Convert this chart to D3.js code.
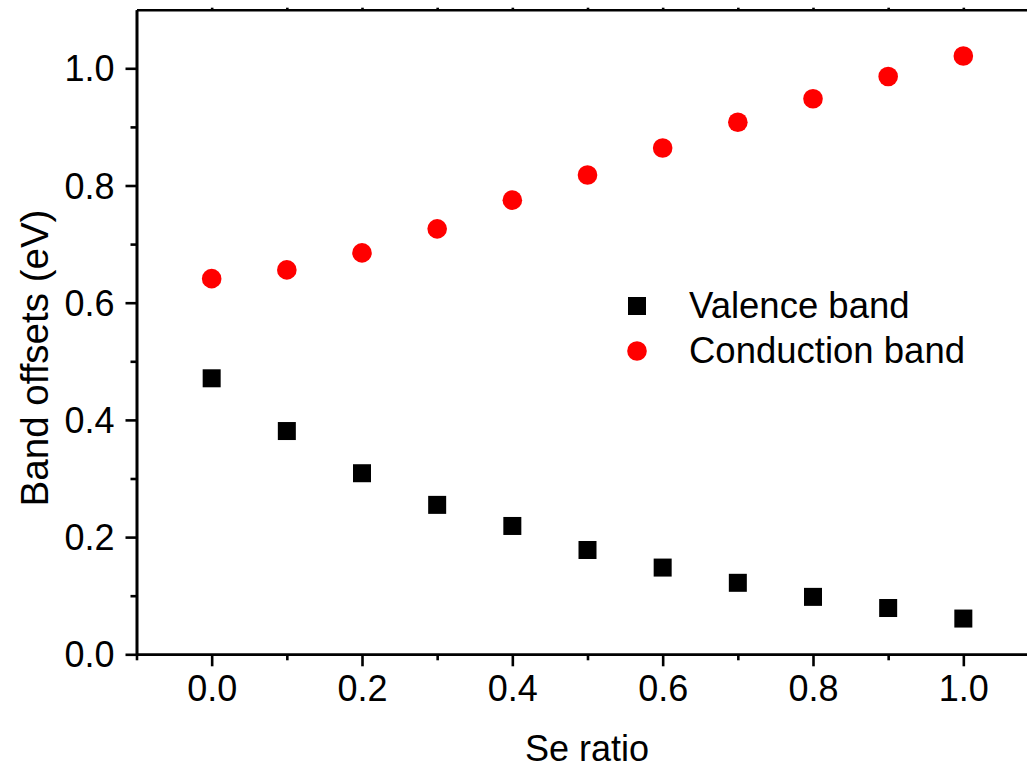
<!DOCTYPE html>
<html>
<head>
<meta charset="utf-8">
<script src="https://cdn.jsdelivr.net/npm/d3@7"></script>
<style>
  body { margin: 0; background: #fff; }
  svg { display: block; }
  text { font-family: Arial, "Liberation Sans", sans-serif; fill: #000; }
</style>
</head>
<body>
<div id="chart"></div>
<script>
// Data
const seRatio = [0.0, 0.1, 0.2, 0.3, 0.4, 0.5, 0.6, 0.7, 0.8, 0.9, 1.0];
const valenceBand = [0.471, 0.381, 0.309, 0.255, 0.219, 0.178, 0.148, 0.122, 0.098, 0.079, 0.061];
const conductionBand = [0.641, 0.656, 0.685, 0.726, 0.775, 0.818, 0.864, 0.908, 0.948, 0.986, 1.021];
const xMajorTicks = [0.0, 0.2, 0.4, 0.6, 0.8, 1.0];
const xMinorTicks = [-0.1, 0.1, 0.3, 0.5, 0.7, 0.9];
const yMajorTicks = [0.0, 0.2, 0.4, 0.6, 0.8, 1.0];
const yMinorTicks = [0.1, 0.3, 0.5, 0.7, 0.9];
const seriesNames = ['Valence band', 'Conduction band'];

const W = 1027, H = 768;

const svg = d3.select('#chart').append('svg')
  .attr('width', W)
  .attr('height', H);

// x runs past the right edge of the picture (the reference is cropped there)
const x = d3.scaleLinear().domain([-0.1, 1.1]).range([136.5, 1038.5]);
const y = d3.scaleLinear().domain([0, 1.1]).range([654.3, 9.7]);

const fmt = d3.format('.1f');

// Bottom axis
const xAxis = svg.append('g').attr('transform', `translate(0, ${y(0)})`);
xAxis.call(d3.axisBottom(x).tickValues(xMajorTicks).tickFormat(fmt).tickSize(12).tickSizeOuter(0).tickPadding(8));
const xMinor = svg.append('g').attr('transform', `translate(0, ${y(0)})`);
xMinor.call(d3.axisBottom(x).tickValues(xMinorTicks).tickFormat('').tickSize(6).tickSizeOuter(0));

// Left axis
const yAxis = svg.append('g').attr('transform', `translate(${x(-0.1)}, 0)`);
yAxis.call(d3.axisLeft(y).tickValues(yMajorTicks).tickFormat(fmt).tickSize(11).tickSizeOuter(0).tickPadding(11));
const yMinor = svg.append('g').attr('transform', `translate(${x(-0.1)}, 0)`);
yMinor.call(d3.axisLeft(y).tickValues(yMinorTicks).tickFormat('').tickSize(6).tickSizeOuter(0));

// Top axis: tiny ticks every 0.1
const topAxis = svg.append('g').attr('transform', `translate(0, ${y(1.1)})`);
topAxis.call(d3.axisTop(x).tickValues(d3.range(0, 11).map(i => i / 10)).tickFormat('').tickSize(2).tickSizeOuter(0));

svg.selectAll('.domain').attr('stroke-width', 2.6);
svg.selectAll('.tick line').attr('stroke-width', 2.6);
svg.selectAll('.tick text').style('font-size', '36px').style('font-family', 'Arial, "Liberation Sans", sans-serif');
yAxis.selectAll('.tick text').attr('dy', '0.35em');
xAxis.selectAll('.tick text').attr('dy', '0.75em');

// Axis titles
svg.append('text')
  .attr('x', 587)
  .attr('y', 761)
  .attr('text-anchor', 'middle')
  .style('font-size', '36px')
  .text('Se ratio');

svg.append('text')
  .attr('transform', 'translate(48, 358) rotate(-90)')
  .attr('text-anchor', 'middle')
  .style('font-size', '38.5px')
  .text('Band offsets (eV)');

// Valence band squares
const sq = 18;
svg.selectAll('.valence')
  .data(seRatio.map((s, i) => ({ s, v: valenceBand[i] })))
  .enter()
  .append('rect')
  .attr('class', 'valence')
  .attr('x', d => x(d.s) - sq / 2)
  .attr('y', d => y(d.v) - sq / 2)
  .attr('width', sq)
  .attr('height', sq)
  .attr('fill', '#000');

// Conduction band circles
svg.selectAll('.conduction')
  .data(seRatio.map((s, i) => ({ s, v: conductionBand[i] })))
  .enter()
  .append('circle')
  .attr('class', 'conduction')
  .attr('cx', d => x(d.s))
  .attr('cy', d => y(d.v))
  .attr('r', 9.8)
  .attr('fill', '#ff0000');

// Legend
const legend = svg.append('g').attr('transform', 'translate(637, 306)');
legend.append('rect')
  .attr('x', -sq / 2).attr('y', -sq / 2)
  .attr('width', sq).attr('height', sq)
  .attr('fill', '#000');
legend.append('circle')
  .attr('cx', 0).attr('cy', 45)
  .attr('r', 9.8)
  .attr('fill', '#ff0000');
legend.selectAll('.leg-text')
  .data(seriesNames)
  .enter()
  .append('text')
  .attr('class', 'leg-text')
  .attr('x', 52)
  .attr('y', (d, i) => i * 45 + 12)
  .style('font-size', '36.5px')
  .text(d => d);
</script>
</body>
</html>
